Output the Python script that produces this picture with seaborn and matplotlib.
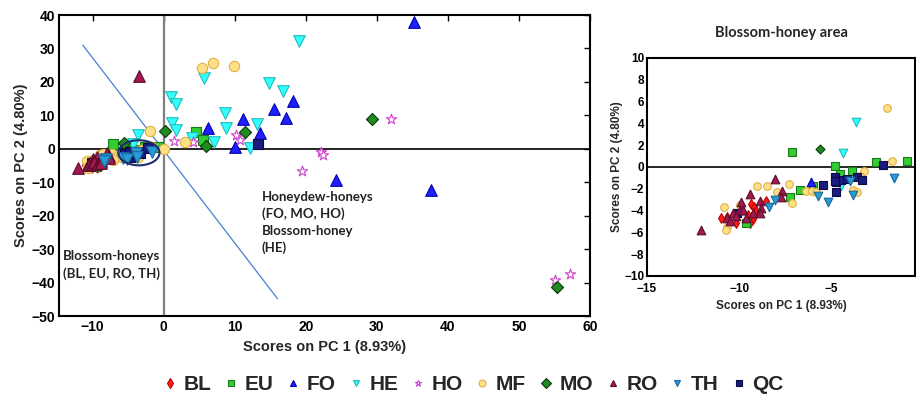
import matplotlib
matplotlib.use("Agg")
import matplotlib.pyplot as plt
from matplotlib.patches import Ellipse
from matplotlib.lines import Line2D
import seaborn as sns
import pandas as pd

# ---------------- data (scores on PC1 / PC2) ----------------
BL_pc1 = [-10.98, -10.15, -9.37, -9.21, -9.25, -9.52, -8.52, -9.20, -10.66, -9.10, -9.40]
BL_pc2 = [-4.72, -5.11, -3.35, -3.65, -4.81, -4.36, -3.08, -4.20, -4.60, -4.00, -5.10]

EU_pc1 = [-7.15, -4.82, -2.59, -0.87, -4.53, -3.89, -5.97, -6.71, -7.22, -9.60, 4.5, 5.5]
EU_pc2 = [1.37, 0.05, 0.42, 0.51, -0.61, -0.40, -1.71, -2.07, -2.74, -5.11, 5.0, 2.7]

FO_pc1 = [35.2, 18.2, 15.5, 17.2, 11.2, 6.2, 13.6, 10.0, 24.2, 37.6, -6.08]
FO_pc2 = [38.0, 14.4, 12.0, 9.3, 9.0, 6.3, 4.6, 0.5, -9.3, -12.4, -1.41]

HE_pc1 = [19.1, 5.7, 14.8, 16.8, 1.0, 1.7, 8.6, 1.2, 1.7, 8.8, 13.1, 4.0, 7.0, 12.1, -3.66, -4.37, -4.45]
HE_pc2 = [32.3, 21.1, 19.6, 17.3, 15.6, 13.3, 10.7, 7.8, 5.6, 6.3, 7.5, 3.2, 1.9, 0.1, 4.14, 1.28, -1.77]

HO_pc1 = [1.5, 4.1, 10.1, 10.7, 32.0, 22.1, 22.4, 19.5, 55.1, 57.2]
HO_pc2 = [2.3, 1.9, 4.0, 2.7, 8.8, -0.9, -2.0, -6.7, -39.1, -37.5]

MF_pc1 = [5.4, 6.9, 9.9, -1.98, 3.0, 0.0, -1.71, -3.2, -3.46, -7.29, -6.39, -6.03, -5.85,
          -3.82, -3.6, -7.95, -9.01, -8.51, -10.84, -10.66, -10.7, -9.97, -7.15]
MF_pc2 = [24.3, 25.7, 24.9, 5.42, 2.1, 0.0, 0.51, -0.40, -0.82, -1.53, -2.23, -2.17, -2.32,
          -2.07, -2.32, -2.32, -1.77, -1.71, -3.69, -5.48, -5.8, -3.47, -3.32]

MO_pc1 = [0.2, 11.5, 5.9, -5.63, 29.3, 55.4]
MO_pc2 = [5.2, 5.0, 0.7, 1.64, 8.9, -41.3]

RO_pc1 = [-3.5, -12.09, -8.05, -9.43, -9.92, -9.97, -10.33, -10.64, -10.48, -10.15, -9.61,
          -9.79, -9.25, -8.89, -8.79, -8.89, -7.65, -7.71]
RO_pc2 = [21.7, -5.75, -1.13, -2.50, -3.20, -3.99, -4.26, -4.72, -4.97, -4.51, -4.66,
          -3.90, -4.20, -3.14, -3.74, -4.20, -2.23, -2.74]

TH_pc1 = [-8.07, -8.40, -5.72, -5.18, -3.98, -3.82, -1.61]
TH_pc2 = [-2.99, -3.65, -2.68, -3.17, -1.31, -2.59, -1.00]

QC_pc1 = [-4.80, -4.72, -4.45, -4.13, -3.58, -3.35, -5.45, -4.76, -2.21, -10.1, 13.3, -4.8]
QC_pc2 = [-0.95, -1.41, -1.16, -1.10, -0.95, -1.22, -1.62, -2.32, 0.15, -4.2, 1.3, -1.3]

groups = ["BL", "EU", "FO", "HE", "HO", "MF", "MO", "RO", "TH", "QC"]
pc1 = {"BL": BL_pc1, "EU": EU_pc1, "FO": FO_pc1, "HE": HE_pc1, "HO": HO_pc1,
       "MF": MF_pc1, "MO": MO_pc1, "RO": RO_pc1, "TH": TH_pc1, "QC": QC_pc1}
pc2 = {"BL": BL_pc2, "EU": EU_pc2, "FO": FO_pc2, "HE": HE_pc2, "HO": HO_pc2,
       "MF": MF_pc2, "MO": MO_pc2, "RO": RO_pc2, "TH": TH_pc2, "QC": QC_pc2}

# separation line and ellipse (annotation geometry)
sep_line_pc1 = [-11.4, 16.0]
sep_line_pc2 = [31.0, -44.8]
ellipse_center = (-3.5, -1.2)
ellipse_size = (5.8, 7.5)

# ---------------- styles ----------------
style = {
    "BL": dict(marker="d", fc="#ff1a1a", ec="#c00000"),
    "EU": dict(marker="s", fc="#33cc33", ec="#1a7a1a"),
    "FO": dict(marker="^", fc="#2020ff", ec="#0000b0"),
    "HE": dict(marker="v", fc="#33ffff", ec="#22bbbb"),
    "HO": dict(marker="*", fc="white", ec="#d040d0"),
    "MF": dict(marker="o", fc="#ffe08a", ec="#e0b040"),
    "MO": dict(marker="D", fc="#1f8a1f", ec="#0a3a0a"),
    "RO": dict(marker="^", fc="#a0194f", ec="#5e0c2c"),
    "TH": dict(marker="v", fc="#2a9ad6", ec="#1a6a9a"),
    "QC": dict(marker="s", fc="#1a1a80", ec="#0a0a45"),
}
size_main = {"BL": 45, "EU": 50, "FO": 70, "HE": 70, "HO": 60, "MF": 55,
             "MO": 38, "RO": 70, "TH": 70, "QC": 55}
size_zoom = {k: v * 0.55 for k, v in size_main.items()}

sns.set_theme(style="white")
plt.rcParams["font.family"] = ["Liberation Sans", "DejaVu Sans"]
plt.rcParams["axes.unicode_minus"] = True

fig = plt.figure(figsize=(9.16, 4.0), dpi=100)
ax = fig.add_axes([59 / 916, 1 - 316 / 400, 531 / 916, 301 / 400])
ax2 = fig.add_axes([647 / 916, 1 - 276 / 400, 268 / 916, 218 / 400])

order = ["BL", "EU", "FO", "HE", "HO", "MF", "MO", "QC", "RO", "TH"]
for a, sizes in ((ax, size_main), (ax2, size_zoom)):
    for g in order:
        df = pd.DataFrame({"pc1": pc1[g], "pc2": pc2[g]})
        st = style[g]
        sns.scatterplot(data=df, x="pc1", y="pc2", ax=a, marker=st["marker"],
                        color=st["fc"], edgecolor=st["ec"], linewidth=0.8,
                        s=sizes[g], zorder=3, legend=False)

# ---- main axes decorations ----
ax.axhline(0, color="black", lw=1.2, zorder=1)
ax.axvline(0, color="#808080", lw=1.6, zorder=1)
sns.lineplot(x=sep_line_pc1, y=sep_line_pc2, ax=ax, color="#4a7fd0", lw=0.9,
             sort=False, zorder=2)
ax.add_patch(Ellipse(ellipse_center, ellipse_size[0], ellipse_size[1], fill=False,
                     ec="#1c2e6e", lw=1.5, zorder=4))
ax.set_xlim(-14.75, 60)
ax.set_ylim(-50, 40)
ax.set_xticks(range(-10, 61, 10))
ax.set_yticks(range(-50, 41, 10))
ax.tick_params(direction="in", length=4, width=1, top=True, right=True,
               labelsize=10, pad=3, colors="black")
for lab in ax.get_xticklabels() + ax.get_yticklabels():
    lab.set_fontweight("bold")
ax.set_xlabel("Scores on PC 1 (8.93%)", fontsize=10.5, fontweight="bold", labelpad=4)
ax.set_ylabel("Scores on PC 2 (4.80%)", fontsize=10.5, fontweight="bold", labelpad=2)
for sp in ax.spines.values():
    sp.set_color("black")
    sp.set_linewidth(1.5)

ax.text(13.8, -12.6, "Honeydew-honeys\n(FO, MO, HO)\nBlossom-honey\n(HE)",
        family=["Lato", "DejaVu Sans"], fontweight="bold", fontsize=9.5,
        va="top", ha="left", linespacing=1.45, color="#222222")
ax.text(-14.2, -30.3, "Blossom-honeys\n(BL, EU, RO, TH)",
        family=["Lato", "DejaVu Sans"], fontweight="bold", fontsize=9.5,
        va="top", ha="left", linespacing=1.45, color="#222222")

# ---- zoom axes decorations ----
ax2.axhline(0, color="black", lw=1.2, zorder=1)
ax2.set_xlim(-15, -0.45)
ax2.set_ylim(-10, 10)
ax2.set_xticks([-15, -10, -5])
ax2.set_yticks(range(-10, 11, 2))
ax2.tick_params(direction="in", length=3, width=1, labelsize=8.5, pad=2,
                colors="black")
ax2.tick_params(axis="x", pad=5)
for lab in ax2.get_xticklabels() + ax2.get_yticklabels():
    lab.set_fontweight("bold")
ax2.set_xlabel("Scores on PC 1 (8.93%)", fontsize=8.5, fontweight="bold", labelpad=4)
ax2.set_ylabel("Scores on PC 2 (4.80%)", fontsize=8.5, fontweight="bold", labelpad=1)
ax2.set_title("Blossom-honey area", family=["Lato", "DejaVu Sans"],
              fontweight="bold", fontsize=10.5, pad=15)
for sp in ax2.spines.values():
    sp.set_color("black")
    sp.set_linewidth(1.5)

# ---- legend ----
handles = [Line2D([], [], ls="none", marker=style[g]["marker"],
                  markerfacecolor=style[g]["fc"], markeredgecolor=style[g]["ec"],
                  markersize=5, markeredgewidth=0.8) for g in groups]
fig.legend(handles, groups, loc="center", bbox_to_anchor=(0.517, 0.038), ncol=10,
           frameon=False, prop={"weight": "bold", "size": 15},
           handlelength=0.6, handletextpad=0.35, columnspacing=0.65)

fig.savefig("out.png", dpi=100)
